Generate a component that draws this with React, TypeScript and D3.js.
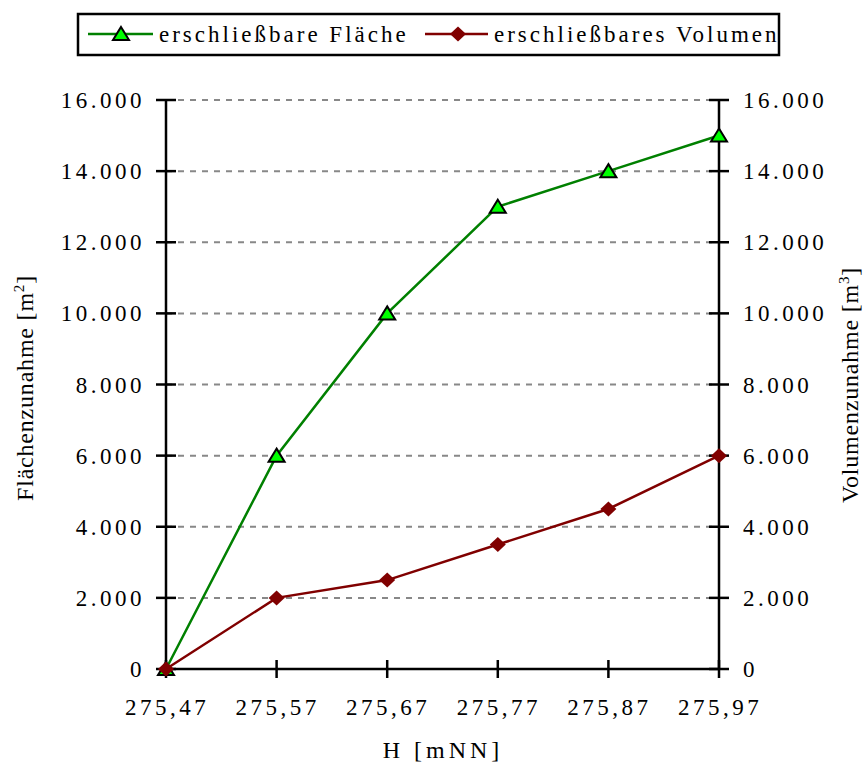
import * as d3 from 'd3';
import * as React from 'react';

const heights: string[] = ['275,47', '275,57', '275,67', '275,77', '275,87', '275,97'];
const flaeche: number[] = [0, 6000, 10000, 13000, 14000, 15000];
const volumen: number[] = [0, 2000, 2500, 3500, 4500, 6000];
const yTicks: number[] = [0, 2000, 4000, 6000, 8000, 10000, 12000, 14000, 16000];

const W = 865;
const H = 762;
const left = 166;
const right = 719;
const top = 100;
const bottom = 669;
const font = 'Liberation Serif';

const fmt = (v: number) => (v === 0 ? '0' : d3.format(',')(v).replace(/,/g, '.'));

export default function App() {
  const x = d3.scalePoint<string>().domain(heights).range([left, right]);
  const y = d3.scaleLinear().domain([0, 16000]).range([bottom, top]);

  const line = d3.line<number>()
    .x((_, i) => x(heights[i]) as number)
    .y(d => y(d));

  const tri = 'M0,-7L8,6L-8,6Z';
  const diamond = 'M0,-7.5L8,0L0,7.5L-8,0Z';

  return (
    <svg width={W} height={H} style={{ position: 'absolute', left: 0, top: 0 }}>
      <rect width={W} height={H} fill="#fff" />
      {yTicks.filter(t => t > 0).map(t => (
        <line key={'g' + t} x1={left} x2={right} y1={y(t)} y2={y(t)}
          stroke="#888" strokeWidth={2} strokeDasharray="6,6" />
      ))}
      {/* axes */}
      <line x1={left} x2={left} y1={top} y2={bottom} stroke="#000" strokeWidth={2.5} />
      <line x1={right} x2={right} y1={top} y2={bottom} stroke="#000" strokeWidth={2.5} />
      <line x1={left} x2={right} y1={bottom} y2={bottom} stroke="#000" strokeWidth={2.5} />
      {yTicks.map(t => (
        <g key={'t' + t}>
          <line x1={left - 10} x2={left + 10} y1={y(t)} y2={y(t)} stroke="#000" strokeWidth={2.5} />
          <line x1={right - 10} x2={right + 10} y1={y(t)} y2={y(t)} stroke="#000" strokeWidth={2.5} />
          <text x={145} y={y(t) + 8} textAnchor="end" fontFamily={font}
            fontSize={23} letterSpacing={3.5}>{fmt(t)}</text>
          <text x={743} y={y(t) + 8} textAnchor="start" fontFamily={font}
            fontSize={23} letterSpacing={3.5}>{fmt(t)}</text>
        </g>
      ))}
      {heights.map(h => (
        <g key={'x' + h}>
          <line x1={x(h)} x2={x(h)} y1={bottom - 9} y2={bottom + 9} stroke="#000" strokeWidth={2.5} />
          <text x={(x(h) as number) + 1} y={715} textAnchor="middle" fontFamily={font}
            fontSize={23} letterSpacing={3.5}>{h}</text>
        </g>
      ))}
      <text x={443} y={758} textAnchor="middle" fontFamily={font}
        fontSize={24} letterSpacing={4}>H [mNN]</text>
      <text transform={`translate(33,388) rotate(-90)`} textAnchor="middle"
        fontFamily={font} fontSize={24} letterSpacing={0.8}>
        Flächenzunahme [m<tspan fontSize={15} dy={-9}>2</tspan><tspan dy={9}>]</tspan>
      </text>
      <text transform={`translate(858,385) rotate(-90)`} textAnchor="middle"
        fontFamily={font} fontSize={24} letterSpacing={0.8}>
        Volumenzunahme [m<tspan fontSize={15} dy={-9}>3</tspan><tspan dy={9}>]</tspan>
      </text>
      {/* series */}
      <path d={line(volumen) || ''} fill="none" stroke="#800000" strokeWidth={2.5} />
      <path d={line(flaeche) || ''} fill="none" stroke="#008000" strokeWidth={2.5} />
      {flaeche.map((v, i) => (
        <path key={'f' + i} d={tri} transform={`translate(${x(heights[i])},${y(v)})`}
          fill="#00ff00" stroke="#000" strokeWidth={2} />
      ))}
      {volumen.map((v, i) => (
        <path key={'v' + i} d={diamond} transform={`translate(${x(heights[i])},${y(v)})`}
          fill="#800000" />
      ))}
      {/* legend */}
      <rect x={78} y={14} width={701} height={41} fill="#fff" stroke="#000" strokeWidth={2.5} />
      <line x1={88} x2={153} y1={34} y2={34} stroke="#008000" strokeWidth={2.5} />
      <path d={tri} transform="translate(121,34)" fill="#00ff00" stroke="#000" strokeWidth={2} />
      <text x={159} y={42} fontFamily={font} fontSize={23} letterSpacing={3}>erschließbare Fläche</text>
      <line x1={425} x2={488} y1={34} y2={34} stroke="#800000" strokeWidth={2.5} />
      <path d={diamond} transform="translate(458,34)" fill="#800000" />
      <text x={494} y={42} fontFamily={font} fontSize={23} letterSpacing={3}>erschließbares Volumen</text>
    </svg>
  );
}
